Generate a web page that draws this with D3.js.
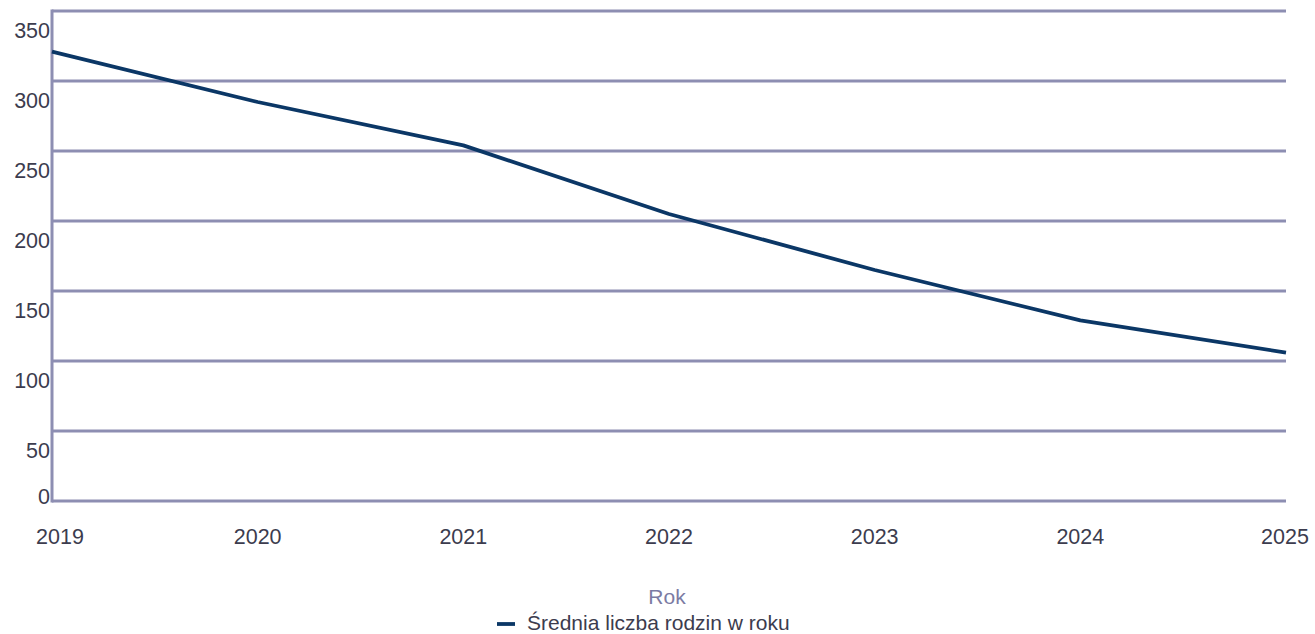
<!DOCTYPE html>
<html><head><meta charset="utf-8">
<script src="https://cdn.jsdelivr.net/npm/d3@7"></script>
<style>body{margin:0;background:#fff}svg{display:block}text{font-family:"Liberation Sans",Arial,sans-serif}</style>
</head><body><svg id="c" width="1315" height="634"></svg>
<script>
const years = ["2019","2020","2021","2022","2023","2024","2025"];
const values = [321, 285, 254, 205, 165, 129, 106];
const yTicks = [0, 50, 100, 150, 200, 250, 300, 350];
const seriesName = "Średnia liczba rodzin w roku";
const xTitle = "Rok";

const svg = d3.select("#c");
const x = d3.scalePoint().domain(years).range([52, 1286]);
const y = d3.scaleLinear().domain([0, 350]).range([501, 11]);
const gridColor = "#8d8eb2";
const textColor = "#3c3c4e";

svg.append("g").selectAll("line").data(yTicks).join("line")
  .attr("x1", 52).attr("x2", 1286)
  .attr("y1", d => y(d)).attr("y2", d => y(d))
  .attr("stroke", gridColor).attr("stroke-width", 3);
svg.append("line").attr("x1", 52).attr("x2", 52).attr("y1", y(350)-1.5).attr("y2", y(0)+1.5)
  .attr("stroke", gridColor).attr("stroke-width", 3);

svg.append("g").selectAll("text").data(yTicks).join("text")
  .attr("x", 50).attr("y", d => Math.min(y(d) + 20, y(0) - 4))
  .attr("text-anchor", "end").attr("dominant-baseline", "central")
  .attr("font-size", 21.5).attr("fill", textColor).text(d => d);

svg.append("g").selectAll("text").data(years).join("text")
  .attr("x", (d, i) => i === 0 ? x(d) + 8 : (i === years.length - 1 ? x(d) - 1 : x(d)))
  .attr("y", 537).attr("text-anchor", "middle").attr("dominant-baseline", "central")
  .attr("font-size", 21.5).attr("fill", textColor).text(d => d);

svg.append("path").datum(values)
  .attr("d", d3.line().x((d, i) => x(years[i])).y(d => y(d)))
  .attr("fill", "none").attr("stroke", "#0b3766").attr("stroke-width", 3.8)
  .attr("stroke-linejoin", "round");

svg.append("text").attr("x", 667).attr("y", 596).attr("text-anchor", "middle")
  .attr("dominant-baseline", "central").attr("font-size", 21).attr("fill", "#7b7ba3").text(xTitle);

svg.append("line").attr("x1", 497).attr("x2", 515).attr("y1", 624).attr("y2", 624)
  .attr("stroke", "#0b3766").attr("stroke-width", 3.8);
svg.append("text").attr("x", 527).attr("y", 622).attr("dominant-baseline", "central")
  .attr("font-size", 21).attr("fill", textColor).text(seriesName);
</script></body></html>
